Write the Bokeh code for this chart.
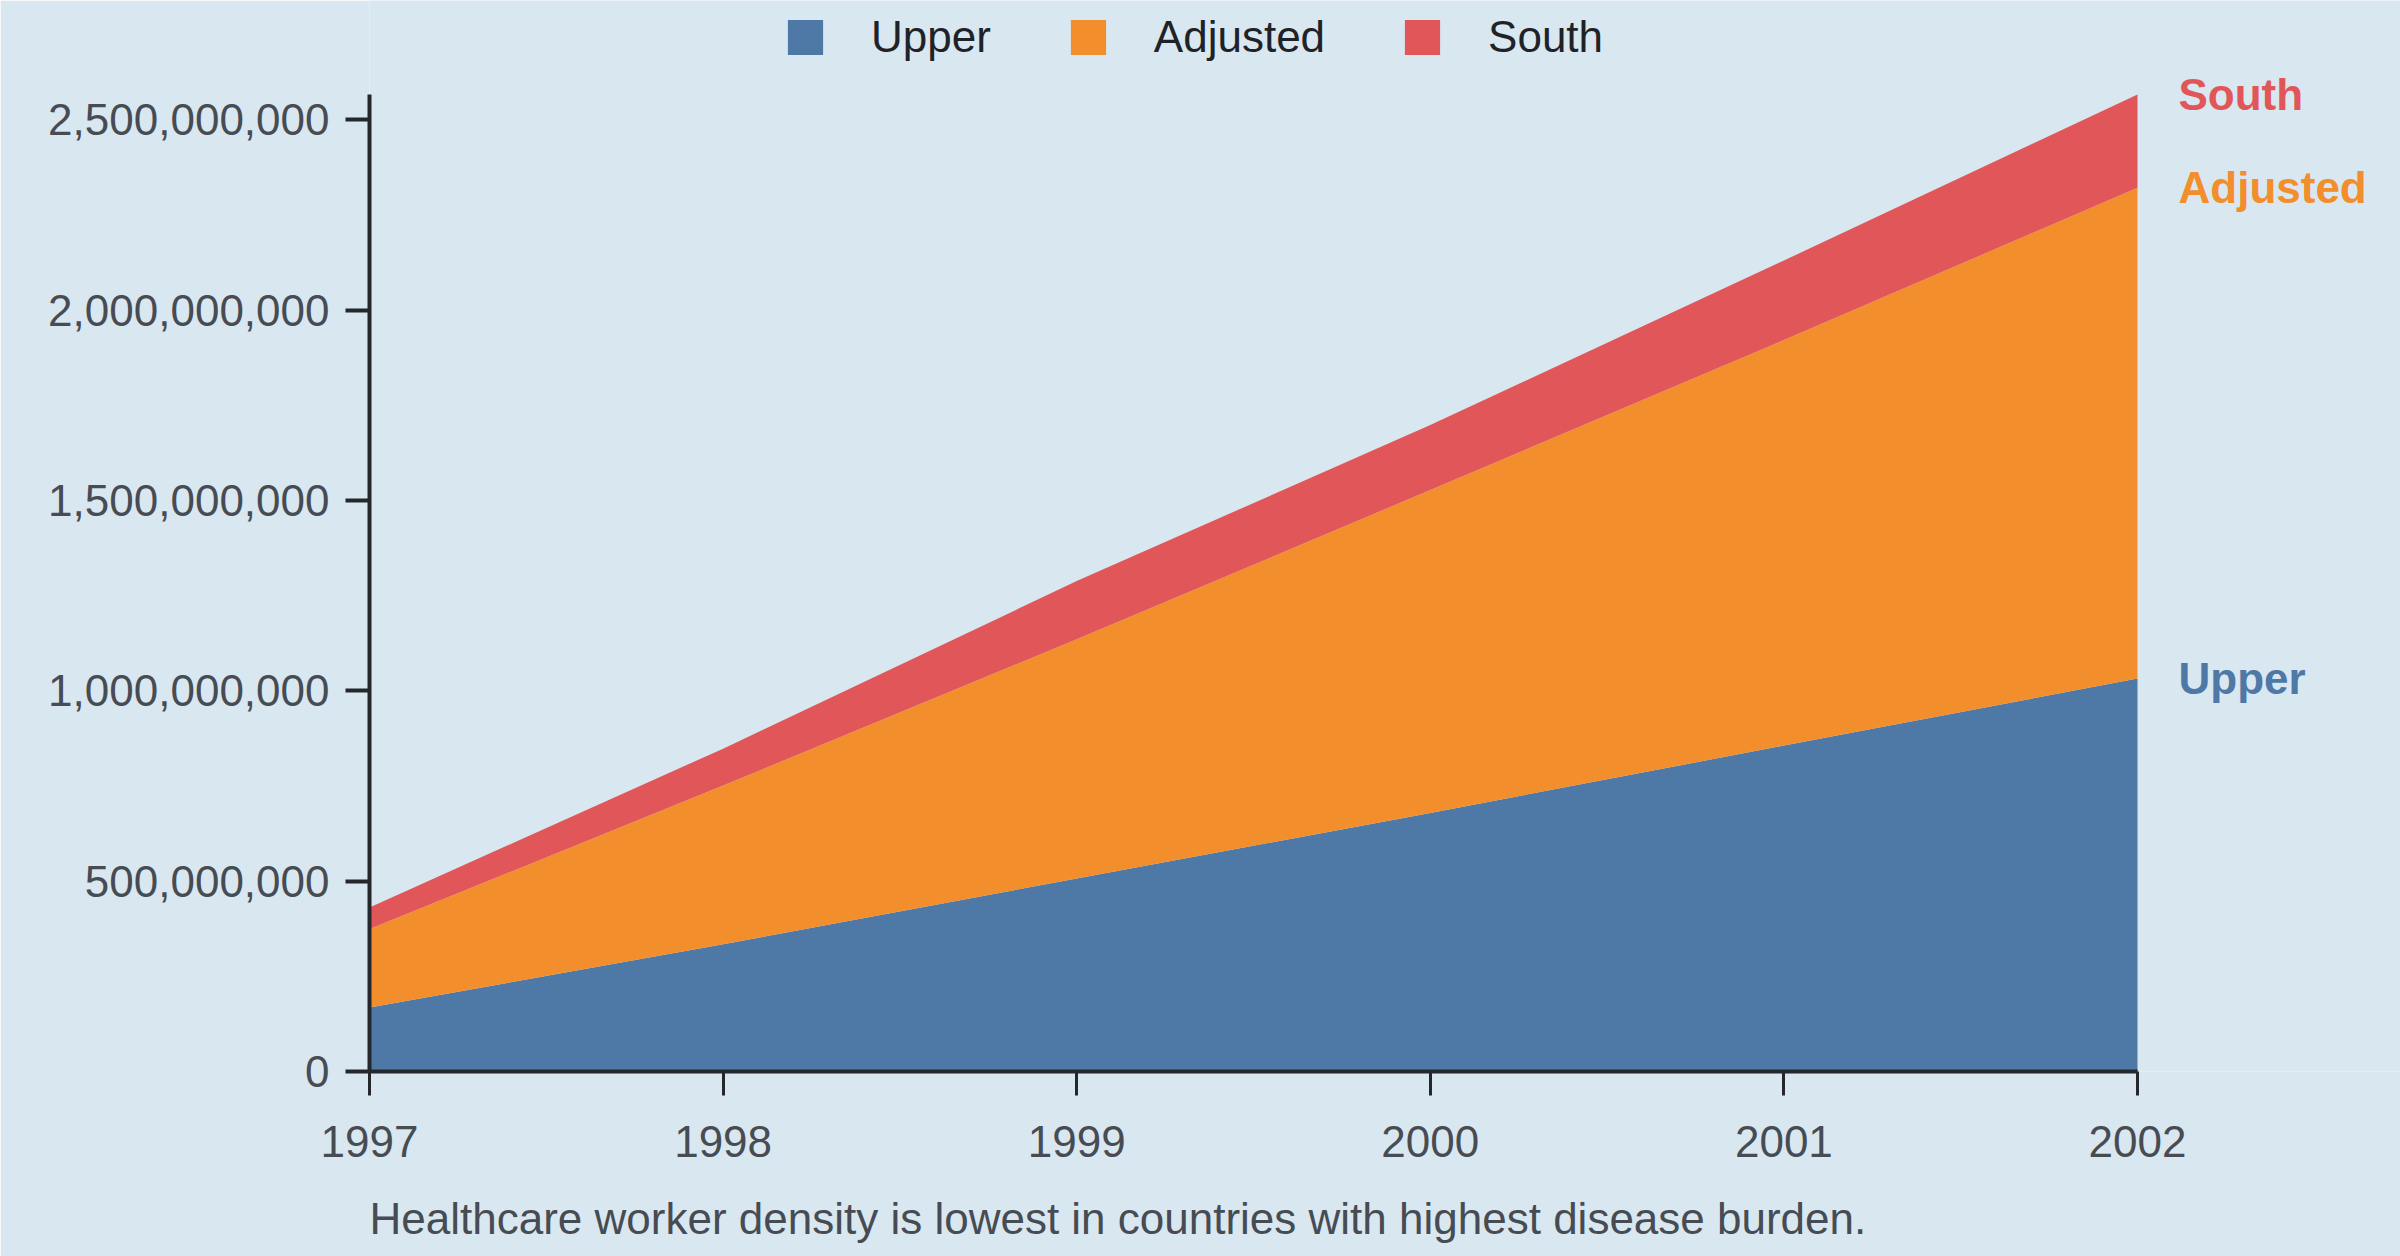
from bokeh.plotting import figure
from bokeh.models import ColumnDataSource, FixedTicker, NumeralTickFormatter, Legend, Title
from bokeh.core.properties import value
from bokeh.embed import file_html
from bokeh.resources import INLINE

# ---- data ----
years = [1997, 1998, 1999, 2000, 2001, 2002]
upper = [168e6, 334e6, 507e6, 679e6, 856e6, 1032e6]
adjusted = [206e6, 417e6, 628e6, 848e6, 1065e6, 1289e6]
south = [57e6, 97e6, 153e6, 171e6, 209e6, 245e6]
series_names = ["Upper", "Adjusted", "South"]
series_colors = ["#4e79a7", "#f28e2b", "#e15759"]
y_ticks = [0, 500e6, 1000e6, 1500e6, 2000e6, 2500e6]
caption = "Healthcare worker density is lowest in countries with highest disease burden."

FONT = "Liberation Sans"
BG = "#d9e7f1"
AXIS = "#24282d"
TICKTXT = "#474c53"

totals = [u + a + s for u, a, s in zip(upper, adjusted, south)]
ymax = max(totals)

# layout: plot area (frame) extends right and up so end labels / legend fit;
# axes are bounded to the data extent.
FRAME_W, FRAME_H = 2031, 1071
DATA_W, DATA_H = 1768, 977
x_end = years[0] + (years[-1] - years[0]) * FRAME_W / DATA_W
y_end = ymax * FRAME_H / DATA_H

source = ColumnDataSource(dict(year=years, Upper=upper, Adjusted=adjusted, South=south))

p = figure(
    frame_width=FRAME_W, frame_height=FRAME_H,
    min_border_left=369, min_border_right=0, min_border_top=0, min_border_bottom=185,
    x_range=(years[0], x_end), y_range=(0, y_end),
    output_backend="svg", toolbar_location=None,
    background_fill_color=BG, border_fill_color=BG,
)
p.outline_line_color = None
p.grid.visible = False

rs = p.varea_stack(stackers=series_names, x="year", color=series_colors, source=source)

# right-side end labels
ends = [upper[-1], upper[-1] + adjusted[-1], totals[-1]]
lab_src = ColumnDataSource(dict(x=[years[-1]] * 3, y=ends, text=series_names, color=series_colors))
p.text(x="x", y="y", text="text", text_color="color", source=lab_src, x_offset=41,
       text_font=value(FONT), text_font_size="44px", text_font_style="bold",
       text_baseline="middle", text_align="left")

# axes
for ax in (p.xaxis[0], p.yaxis[0]):
    ax.axis_line_color = AXIS
    ax.axis_line_width = 4
    ax.major_tick_line_color = AXIS
    ax.major_tick_in = 0
    ax.major_tick_out = 24
    ax.minor_tick_line_color = None
    ax.major_label_text_font = FONT
    ax.major_label_text_font_size = "44px"
    ax.major_label_text_color = TICKTXT

p.xaxis[0].ticker = FixedTicker(ticks=years)
p.xaxis[0].bounds = (years[0], years[-1])
p.xaxis[0].major_tick_line_width = 3
p.xaxis[0].major_label_standoff = 30
p.yaxis[0].ticker = FixedTicker(ticks=y_ticks)
p.yaxis[0].bounds = (0, ymax)
p.yaxis[0].formatter = NumeralTickFormatter(format="0,0")
p.yaxis[0].major_tick_line_width = 4
p.yaxis[0].major_label_standoff = 16

# legend
legend = Legend(
    items=[(n, [r]) for n, r in zip(series_names, rs)],
    orientation="horizontal", location=(414, 1009),
    glyph_width=44, glyph_height=44, label_standoff=44, spacing=75,
    padding=0, margin=0, border_line_color=None, background_fill_alpha=0,
    label_text_font=FONT, label_text_font_size="44px", label_text_color="#1f2328",
    label_text_baseline="middle",
)
p.add_layout(legend, "center")

# caption
p.add_layout(Title(text=caption, align="left", standoff=65, text_font=FONT,
                   text_font_size="44px", text_font_style="normal", text_color=TICKTXT), "below")

open("out.html", "w").write(file_html(p, INLINE))
